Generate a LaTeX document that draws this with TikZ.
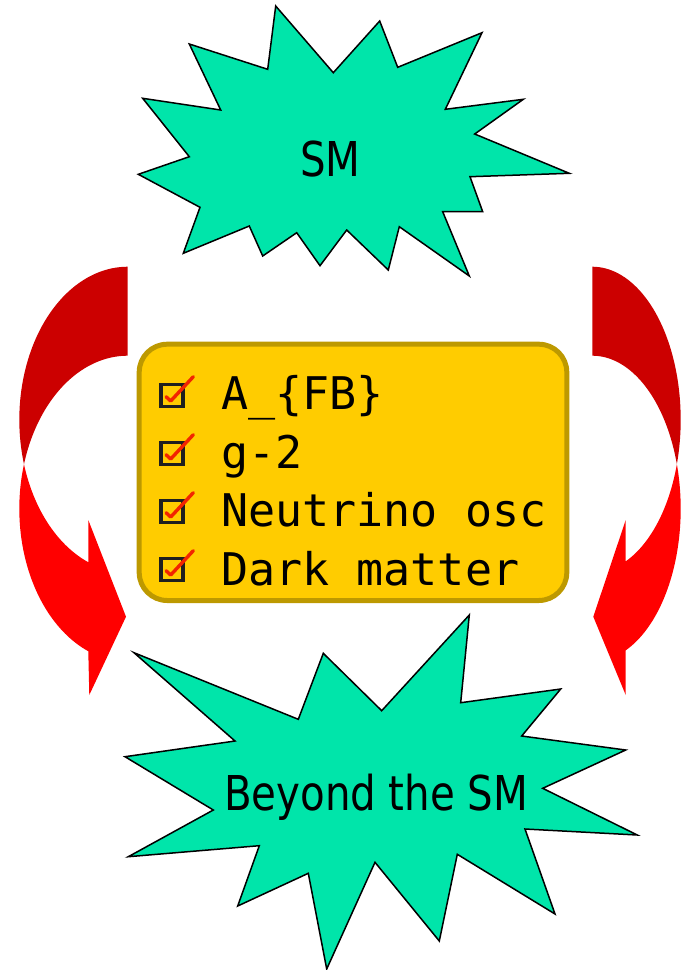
\documentclass[tikz,border=0pt]{standalone}
\usepackage{fontspec}
\usetikzlibrary{calc}
\newfontfamily\burstfont[FakeStretch=0.84]{DejaVu Sans}
\newfontfamily\listfont{DejaVu Sans Mono}

\definecolor{burst}{RGB}{0,229,170}
\definecolor{arrowdark}{RGB}{204,0,0}
\definecolor{arrowlight}{RGB}{255,0,0}
\definecolor{boxfill}{RGB}{255,204,0}
\definecolor{boxline}{RGB}{189,153,0}
\definecolor{tickred}{RGB}{242,36,0}

\tikzset{
  burstshape/.style={draw=black, fill=burst, line width=1.5pt, line join=miter},
  bursttext/.style={font=\burstfont\fontsize{48}{48}\selectfont, inner sep=0pt, anchor=base},
  factbox/.style={draw=boxline, fill=boxfill, line width=5pt, rounded corners=28pt, inner sep=0pt},
  itemtext/.style={font=\listfont\fontsize{45}{45}\selectfont, inner sep=0pt, anchor=base west},
  checkbox/.style={draw=black!88, line width=3.6pt, minimum size=22pt, inner sep=0pt},
  tick/.style={draw=tickred, line width=3.4pt, line cap=round, line join=round},
  backband/.style={fill=arrowdark},
  frontband/.style={fill=arrowlight}
}

\begin{document}
\begin{tikzpicture}[x=1pt, y=-1pt]
\useasboundingbox (0,0) rectangle (683,970);

% ---- curved arrow on the left (two offset ellipses, twisted ribbon)
\fill[backband]
  plot[domain=270:163.09, samples=50] ({127.7+108.4*cos(\x)},{419.7+153*sin(\x)})
  -- plot[domain=196.91:270, samples=50] ({127.7+108.4*cos(\x)},{508.7+153*sin(\x)})
  -- cycle;
\fill[frontband]
  plot[domain=196.91:111.32, samples=50] ({127.7+108.4*cos(\x)},{508.7+153*sin(\x)})
  -- (89.3,695) -- (126,616.7) -- (88.3,520) -- (88.3,562.2)
  -- plot[domain=111.32:163.09, samples=50] ({127.7+108.4*cos(\x)},{419.7+153*sin(\x)})
  -- cycle;

% ---- curved arrow on the right (mirrored)
\fill[backband]
  plot[domain=270:163.09, samples=50] ({592.3-88.4*cos(\x)},{419.7+153*sin(\x)})
  -- plot[domain=196.91:270, samples=50] ({592.3-88.4*cos(\x)},{508.7+153*sin(\x)})
  -- cycle;
\fill[frontband]
  plot[domain=196.91:112.2, samples=50] ({592.3-88.4*cos(\x)},{508.7+153*sin(\x)})
  -- (625.7,695) -- (593.3,616.7) -- (625.7,520) -- (625.7,561.4)
  -- plot[domain=112.2:163.09, samples=50] ({592.3-88.4*cos(\x)},{419.7+153*sin(\x)})
  -- cycle;

% ---- upper burst
\draw[burstshape]
  (275.7,6) -- (333.3,72.7) -- (379.7,21) -- (397.7,67.3) -- (482,32.7)
  -- (445.3,109.3) -- (523.3,99.3) -- (474.7,134) -- (569.3,173.3)
  -- (470,176.7) -- (482.7,211.7) -- (442.7,211.7) -- (469.3,276)
  -- (399.3,226.7) -- (388.3,270) -- (346.7,230) -- (320,265.7)
  -- (296.7,232.7) -- (262.7,256) -- (249.3,226) -- (183.3,253.3)
  -- (200,207.3) -- (138.3,174.3) -- (189.3,156.7) -- (142.7,98.3)
  -- (220.7,110) -- (189.3,44) -- (267.7,69.3) -- cycle;
\node[bursttext] (sm) at (330.3,176) {SM};

% ---- list box
\node[factbox, minimum width=427.6pt, minimum height=256.3pt] (facts) at (353,472.35) {};

\node[checkbox] (cb1) at (171.7,395.3) {};
\node[checkbox] (cb2) at (171.7,453.3) {};
\node[checkbox] (cb3) at (171.7,511.3) {};
\node[checkbox] (cb4) at (171.7,569.3) {};
\foreach \c in {cb1,cb2,cb3,cb4}{
  \draw[tick] ($(\c.center)+(-5.7,1.4)$) -- ++(4.7,4.3) -- ++(22.6,-24.3);
}

\node[itemtext] (item1) at (221,409) {A\_\{FB\}};
\node[itemtext] (item2) at (221,468.3) {g-2};
\node[itemtext] (item3) at (221,526.7) {Neutrino osc};
\node[itemtext] (item4) at (221,585) {Dark matter};

% ---- lower burst
\draw[burstshape]
  (134,652.7) -- (298.3,719.3) -- (323.3,653.3) -- (381.7,710.7) -- (469.3,615)
  -- (460.7,702.7) -- (560.7,689) -- (521.7,736) -- (625.7,750)
  -- (542.7,788.3) -- (637.3,835) -- (525,829) -- (555,914)
  -- (457.3,854.3) -- (439.3,941) -- (375,862.3) -- (326.7,969)
  -- (308.3,873.3) -- (237.7,906) -- (259.3,845.7) -- (128.3,856.7)
  -- (213.3,810) -- (125,756.7) -- (235,741) -- cycle;
\node[bursttext] (bsm) at (376.2,810) {Beyond the SM};
\end{tikzpicture}
\end{document}
